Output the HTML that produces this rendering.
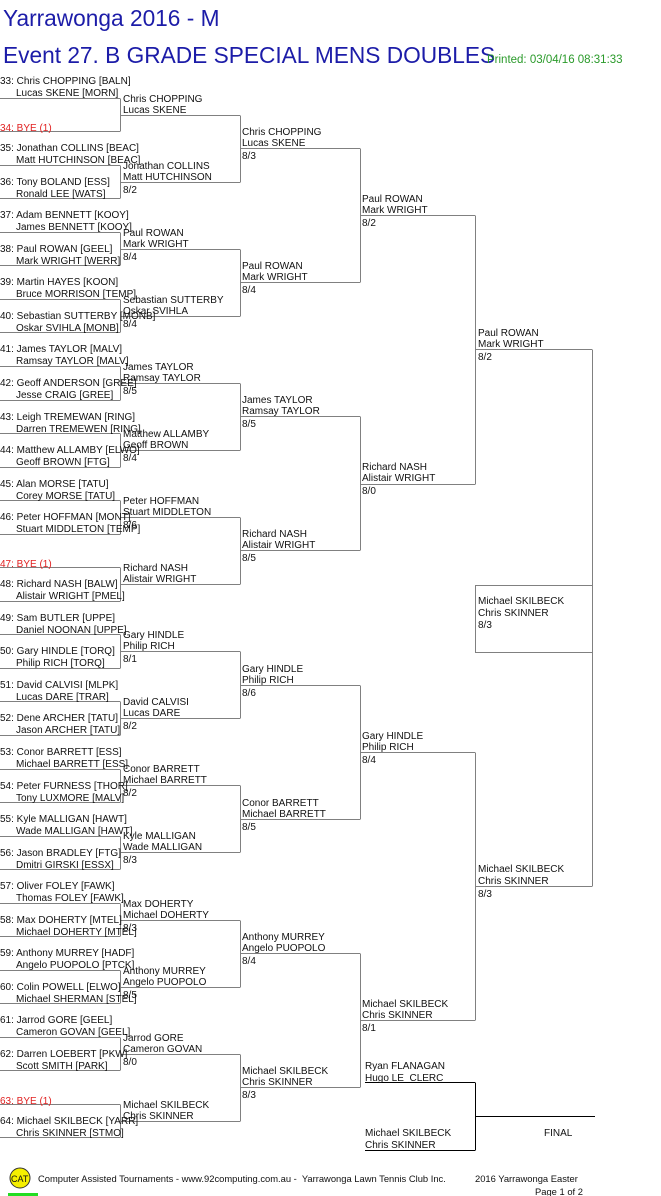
<!DOCTYPE html>
<html><head><meta charset="utf-8"><style>
html,body{margin:0;padding:0;background:#fff;width:661px;height:1196px;overflow:hidden}
svg{display:block}
text{font-family:"Liberation Sans",Arial,sans-serif;font-size:10px;fill:#111}
.r{fill:#e02020}
line,rect{stroke:#808080;stroke-width:1;fill:none}
.k{stroke:#000}
</style></head><body>
<svg width="661" height="1196" xmlns="http://www.w3.org/2000/svg">
<text x="3" y="26" style="font-size:22.7px;fill:#1c1ca8">Yarrawonga 2016 - M</text>
<text x="3" y="63" style="font-size:22.7px;fill:#1c1ca8">Event 27. B GRADE SPECIAL MENS DOUBLES</text>
<text x="487" y="63" style="font-size:11.5px;fill:#2a9a2a">Printed: 03/04/16 08:31:33</text>

<g>
<line x1="0" y1="98.5" x2="120" y2="98.5"/><line x1="0" y1="131.5" x2="120" y2="131.5"/><line x1="120.5" y1="98.5" x2="120.5" y2="131.5"/>
<line x1="0" y1="165.5" x2="120" y2="165.5"/><line x1="0" y1="198.5" x2="120" y2="198.5"/><line x1="120.5" y1="165.5" x2="120.5" y2="198.5"/>
<line x1="0" y1="232.5" x2="120" y2="232.5"/><line x1="0" y1="265.5" x2="120" y2="265.5"/><line x1="120.5" y1="232.5" x2="120.5" y2="265.5"/>
<line x1="0" y1="299.5" x2="120" y2="299.5"/><line x1="0" y1="332.5" x2="120" y2="332.5"/><line x1="120.5" y1="299.5" x2="120.5" y2="332.5"/>
<line x1="0" y1="366.5" x2="120" y2="366.5"/><line x1="0" y1="400.5" x2="120" y2="400.5"/><line x1="120.5" y1="366.5" x2="120.5" y2="400.5"/>
<line x1="0" y1="433.5" x2="120" y2="433.5"/><line x1="0" y1="467.5" x2="120" y2="467.5"/><line x1="120.5" y1="433.5" x2="120.5" y2="467.5"/>
<line x1="0" y1="500.5" x2="120" y2="500.5"/><line x1="0" y1="534.5" x2="120" y2="534.5"/><line x1="120.5" y1="500.5" x2="120.5" y2="534.5"/>
<line x1="0" y1="567.5" x2="120" y2="567.5"/><line x1="0" y1="601.5" x2="120" y2="601.5"/><line x1="120.5" y1="567.5" x2="120.5" y2="601.5"/>
<line x1="0" y1="634.5" x2="120" y2="634.5"/><line x1="0" y1="668.5" x2="120" y2="668.5"/><line x1="120.5" y1="634.5" x2="120.5" y2="668.5"/>
<line x1="0" y1="701.5" x2="120" y2="701.5"/><line x1="0" y1="735.5" x2="120" y2="735.5"/><line x1="120.5" y1="701.5" x2="120.5" y2="735.5"/>
<line x1="0" y1="769.5" x2="120" y2="769.5"/><line x1="0" y1="802.5" x2="120" y2="802.5"/><line x1="120.5" y1="769.5" x2="120.5" y2="802.5"/>
<line x1="0" y1="836.5" x2="120" y2="836.5"/><line x1="0" y1="869.5" x2="120" y2="869.5"/><line x1="120.5" y1="836.5" x2="120.5" y2="869.5"/>
<line x1="0" y1="903.5" x2="120" y2="903.5"/><line x1="0" y1="936.5" x2="120" y2="936.5"/><line x1="120.5" y1="903.5" x2="120.5" y2="936.5"/>
<line x1="0" y1="970.5" x2="120" y2="970.5"/><line x1="0" y1="1003.5" x2="120" y2="1003.5"/><line x1="120.5" y1="970.5" x2="120.5" y2="1003.5"/>
<line x1="0" y1="1037.5" x2="120" y2="1037.5"/><line x1="0" y1="1070.5" x2="120" y2="1070.5"/><line x1="120.5" y1="1037.5" x2="120.5" y2="1070.5"/>
<line x1="0" y1="1104.5" x2="120" y2="1104.5"/><line x1="0" y1="1137.5" x2="120" y2="1137.5"/><line x1="120.5" y1="1104.5" x2="120.5" y2="1137.5"/>
</g>
<g>
<line x1="120" y1="115.5" x2="240" y2="115.5"/><line x1="120" y1="182.5" x2="240" y2="182.5"/><line x1="240.5" y1="115.5" x2="240.5" y2="182.5"/>
<line x1="120" y1="249.5" x2="240" y2="249.5"/><line x1="120" y1="316.5" x2="240" y2="316.5"/><line x1="240.5" y1="249.5" x2="240.5" y2="316.5"/>
<line x1="120" y1="383.5" x2="240" y2="383.5"/><line x1="120" y1="450.5" x2="240" y2="450.5"/><line x1="240.5" y1="383.5" x2="240.5" y2="450.5"/>
<line x1="120" y1="517.5" x2="240" y2="517.5"/><line x1="120" y1="584.5" x2="240" y2="584.5"/><line x1="240.5" y1="517.5" x2="240.5" y2="584.5"/>
<line x1="120" y1="651.5" x2="240" y2="651.5"/><line x1="120" y1="718.5" x2="240" y2="718.5"/><line x1="240.5" y1="651.5" x2="240.5" y2="718.5"/>
<line x1="120" y1="785.5" x2="240" y2="785.5"/><line x1="120" y1="852.5" x2="240" y2="852.5"/><line x1="240.5" y1="785.5" x2="240.5" y2="852.5"/>
<line x1="120" y1="920.5" x2="240" y2="920.5"/><line x1="120" y1="987.5" x2="240" y2="987.5"/><line x1="240.5" y1="920.5" x2="240.5" y2="987.5"/>
<line x1="120" y1="1054.5" x2="240" y2="1054.5"/><line x1="120" y1="1121.5" x2="240" y2="1121.5"/><line x1="240.5" y1="1054.5" x2="240.5" y2="1121.5"/>
</g>
<g>
<line x1="240" y1="148.5" x2="360" y2="148.5"/><line x1="240" y1="282.5" x2="360" y2="282.5"/><line x1="360.5" y1="148.5" x2="360.5" y2="282.5"/>
<line x1="240" y1="416.5" x2="360" y2="416.5"/><line x1="240" y1="550.5" x2="360" y2="550.5"/><line x1="360.5" y1="416.5" x2="360.5" y2="550.5"/>
<line x1="240" y1="685.5" x2="360" y2="685.5"/><line x1="240" y1="819.5" x2="360" y2="819.5"/><line x1="360.5" y1="685.5" x2="360.5" y2="819.5"/>
<line x1="240" y1="953.5" x2="360" y2="953.5"/><line x1="240" y1="1087.5" x2="360" y2="1087.5"/><line x1="360.5" y1="953.5" x2="360.5" y2="1087.5"/>
</g>
<line x1="360" y1="215.5" x2="475" y2="215.5"/><line x1="360" y1="484.5" x2="475" y2="484.5"/><line x1="475.5" y1="215.5" x2="475.5" y2="484.5"/>
<line x1="360" y1="752.5" x2="475" y2="752.5"/><line x1="360" y1="1020.5" x2="475" y2="1020.5"/><line x1="475.5" y1="752.5" x2="475.5" y2="1020.5"/>
<line x1="475" y1="349.5" x2="592" y2="349.5"/><line x1="475" y1="886.5" x2="592" y2="886.5"/><line x1="592.5" y1="349.5" x2="592.5" y2="886.5"/>
<rect x="475.5" y="585.5" width="117" height="67"/>
<line class="k" x1="365" y1="1082.5" x2="475" y2="1082.5"/><line class="k" x1="365" y1="1150.5" x2="475" y2="1150.5"/><line class="k" x1="475.5" y1="1082.5" x2="475.5" y2="1150.5"/><line class="k" x1="475" y1="1116.5" x2="595" y2="1116.5"/>

<g>
<text x="0" y="84">33: Chris CHOPPING [BALN]</text><text x="16" y="96">Lucas SKENE [MORN]</text>
<text class="r" x="0" y="131">34: BYE (1)</text>
<text x="0" y="151">35: Jonathan COLLINS [BEAC]</text><text x="16" y="163">Matt HUTCHINSON [BEAC]</text>
<text x="0" y="185">36: Tony BOLAND [ESS]</text><text x="16" y="197">Ronald LEE [WATS]</text>
<text x="0" y="218">37: Adam BENNETT [KOOY]</text><text x="16" y="230">James BENNETT [KOOY]</text>
<text x="0" y="252">38: Paul ROWAN [GEEL]</text><text x="16" y="264">Mark WRIGHT [WERR]</text>
<text x="0" y="285">39: Martin HAYES [KOON]</text><text x="16" y="297">Bruce MORRISON [TEMP]</text>
<text x="0" y="319">40: Sebastian SUTTERBY [MONB]</text><text x="16" y="331">Oskar SVIHLA [MONB]</text>
<text x="0" y="352">41: James TAYLOR [MALV]</text><text x="16" y="364">Ramsay TAYLOR [MALV]</text>
<text x="0" y="386">42: Geoff ANDERSON [GREE]</text><text x="16" y="398">Jesse CRAIG [GREE]</text>
<text x="0" y="420">43: Leigh TREMEWAN [RING]</text><text x="16" y="432">Darren TREMEWEN [RING]</text>
<text x="0" y="453">44: Matthew ALLAMBY [ELWO]</text><text x="16" y="465">Geoff BROWN [FTG]</text>
<text x="0" y="487">45: Alan MORSE [TATU]</text><text x="16" y="499">Corey MORSE [TATU]</text>
<text x="0" y="520">46: Peter HOFFMAN [MONT]</text><text x="16" y="532">Stuart MIDDLETON [TEMP]</text>
<text class="r" x="0" y="567">47: BYE (1)</text>
<text x="0" y="587">48: Richard NASH [BALW]</text><text x="16" y="599">Alistair WRIGHT [PMEL]</text>
<text x="0" y="621">49: Sam BUTLER [UPPE]</text><text x="16" y="633">Daniel NOONAN [UPPE]</text>
<text x="0" y="654">50: Gary HINDLE [TORQ]</text><text x="16" y="666">Philip RICH [TORQ]</text>
<text x="0" y="688">51: David CALVISI [MLPK]</text><text x="16" y="700">Lucas DARE [TRAR]</text>
<text x="0" y="721">52: Dene ARCHER [TATU]</text><text x="16" y="733">Jason ARCHER [TATU]</text>
<text x="0" y="755">53: Conor BARRETT [ESS]</text><text x="16" y="767">Michael BARRETT [ESS]</text>
<text x="0" y="789">54: Peter FURNESS [THOR]</text><text x="16" y="801">Tony LUXMORE [MALV]</text>
<text x="0" y="822">55: Kyle MALLIGAN [HAWT]</text><text x="16" y="834">Wade MALLIGAN [HAWT]</text>
<text x="0" y="856">56: Jason BRADLEY [FTG]</text><text x="16" y="868">Dmitri GIRSKI [ESSX]</text>
<text x="0" y="889">57: Oliver FOLEY [FAWK]</text><text x="16" y="901">Thomas FOLEY [FAWK]</text>
<text x="0" y="923">58: Max DOHERTY [MTEL]</text><text x="16" y="935">Michael DOHERTY [MTEL]</text>
<text x="0" y="956">59: Anthony MURREY [HADF]</text><text x="16" y="968">Angelo PUOPOLO [PTCK]</text>
<text x="0" y="990">60: Colin POWELL [ELWO]</text><text x="16" y="1002">Michael SHERMAN [STEL]</text>
<text x="0" y="1023">61: Jarrod GORE [GEEL]</text><text x="16" y="1035">Cameron GOVAN [GEEL]</text>
<text x="0" y="1057">62: Darren LOEBERT [PKW]</text><text x="16" y="1069">Scott SMITH [PARK]</text>
<text class="r" x="0" y="1104">63: BYE (1)</text>
<text x="0" y="1124">64: Michael SKILBECK [YARR]</text><text x="16" y="1136">Chris SKINNER [STMO]</text>
</g>
<g>
<text x="123" y="102">Chris CHOPPING</text><text x="123" y="113">Lucas SKENE</text>
<text x="123" y="169">Jonathan COLLINS</text><text x="123" y="180">Matt HUTCHINSON</text><text x="123" y="193">8/2</text>
<text x="123" y="236">Paul ROWAN</text><text x="123" y="247">Mark WRIGHT</text><text x="123" y="260">8/4</text>
<text x="123" y="303">Sebastian SUTTERBY</text><text x="123" y="314">Oskar SVIHLA</text><text x="123" y="327">8/4</text>
<text x="123" y="370">James TAYLOR</text><text x="123" y="381">Ramsay TAYLOR</text><text x="123" y="394">8/5</text>
<text x="123" y="437">Matthew ALLAMBY</text><text x="123" y="448">Geoff BROWN</text><text x="123" y="461">8/4</text>
<text x="123" y="504">Peter HOFFMAN</text><text x="123" y="515">Stuart MIDDLETON</text><text x="123" y="528">8/6</text>
<text x="123" y="571">Richard NASH</text><text x="123" y="582">Alistair WRIGHT</text>
<text x="123" y="638">Gary HINDLE</text><text x="123" y="649">Philip RICH</text><text x="123" y="662">8/1</text>
<text x="123" y="705">David CALVISI</text><text x="123" y="716">Lucas DARE</text><text x="123" y="729">8/2</text>
<text x="123" y="772">Conor BARRETT</text><text x="123" y="783">Michael BARRETT</text><text x="123" y="796">8/2</text>
<text x="123" y="839">Kyle MALLIGAN</text><text x="123" y="850">Wade MALLIGAN</text><text x="123" y="863">8/3</text>
<text x="123" y="907">Max DOHERTY</text><text x="123" y="918">Michael DOHERTY</text><text x="123" y="931">8/3</text>
<text x="123" y="974">Anthony MURREY</text><text x="123" y="985">Angelo PUOPOLO</text><text x="123" y="998">8/5</text>
<text x="123" y="1041">Jarrod GORE</text><text x="123" y="1052">Cameron GOVAN</text><text x="123" y="1065">8/0</text>
<text x="123" y="1108">Michael SKILBECK</text><text x="123" y="1119">Chris SKINNER</text>
</g>
<g>
<text x="242" y="135">Chris CHOPPING</text><text x="242" y="146">Lucas SKENE</text><text x="242" y="159">8/3</text>
<text x="242" y="269">Paul ROWAN</text><text x="242" y="280">Mark WRIGHT</text><text x="242" y="293">8/4</text>
<text x="242" y="403">James TAYLOR</text><text x="242" y="414">Ramsay TAYLOR</text><text x="242" y="427">8/5</text>
<text x="242" y="537">Richard NASH</text><text x="242" y="548">Alistair WRIGHT</text><text x="242" y="561">8/5</text>
<text x="242" y="672">Gary HINDLE</text><text x="242" y="683">Philip RICH</text><text x="242" y="696">8/6</text>
<text x="242" y="806">Conor BARRETT</text><text x="242" y="817">Michael BARRETT</text><text x="242" y="830">8/5</text>
<text x="242" y="940">Anthony MURREY</text><text x="242" y="951">Angelo PUOPOLO</text><text x="242" y="964">8/4</text>
<text x="242" y="1074">Michael SKILBECK</text><text x="242" y="1085">Chris SKINNER</text><text x="242" y="1098">8/3</text>
</g>
<g>
<text x="362" y="202">Paul ROWAN</text><text x="362" y="213">Mark WRIGHT</text><text x="362" y="226">8/2</text>
<text x="362" y="470">Richard NASH</text><text x="362" y="481">Alistair WRIGHT</text><text x="362" y="494">8/0</text>
<text x="362" y="739">Gary HINDLE</text><text x="362" y="750">Philip RICH</text><text x="362" y="763">8/4</text>
<text x="362" y="1007">Michael SKILBECK</text><text x="362" y="1018">Chris SKINNER</text><text x="362" y="1031">8/1</text>
</g>
<g>
<text x="478" y="336">Paul ROWAN</text><text x="478" y="347">Mark WRIGHT</text><text x="478" y="360">8/2</text>
<text x="478" y="604">Michael SKILBECK</text><text x="478" y="616">Chris SKINNER</text><text x="478" y="628">8/3</text>
<text x="478" y="872">Michael SKILBECK</text><text x="478" y="884">Chris SKINNER</text><text x="478" y="897">8/3</text>
</g>
<text x="365" y="1069">Ryan FLANAGAN</text><text x="365" y="1081">Hugo LE&#160; CLERC</text>
<text x="365" y="1136">Michael SKILBECK</text><text x="365" y="1148">Chris SKINNER</text>
<text x="544" y="1136">FINAL</text>

<circle cx="20" cy="1178" r="10" style="fill:#f5ef00;stroke:#333;stroke-width:1"/>
<text x="11" y="1182" style="font-size:9px">CAT</text>
<rect x="8" y="1193" width="30" height="3" style="fill:#22dd22;stroke:none"/>
<text x="38" y="1182" style="font-size:9.4px">Computer Assisted Tournaments - www.92computing.com.au -&#160; Yarrawonga Lawn Tennis Club Inc.</text>
<text x="475" y="1182" style="font-size:9.4px">2016 Yarrawonga Easter</text>
<text x="535" y="1195" style="font-size:9.4px">Page 1 of 2</text>
</svg>
</body></html>
